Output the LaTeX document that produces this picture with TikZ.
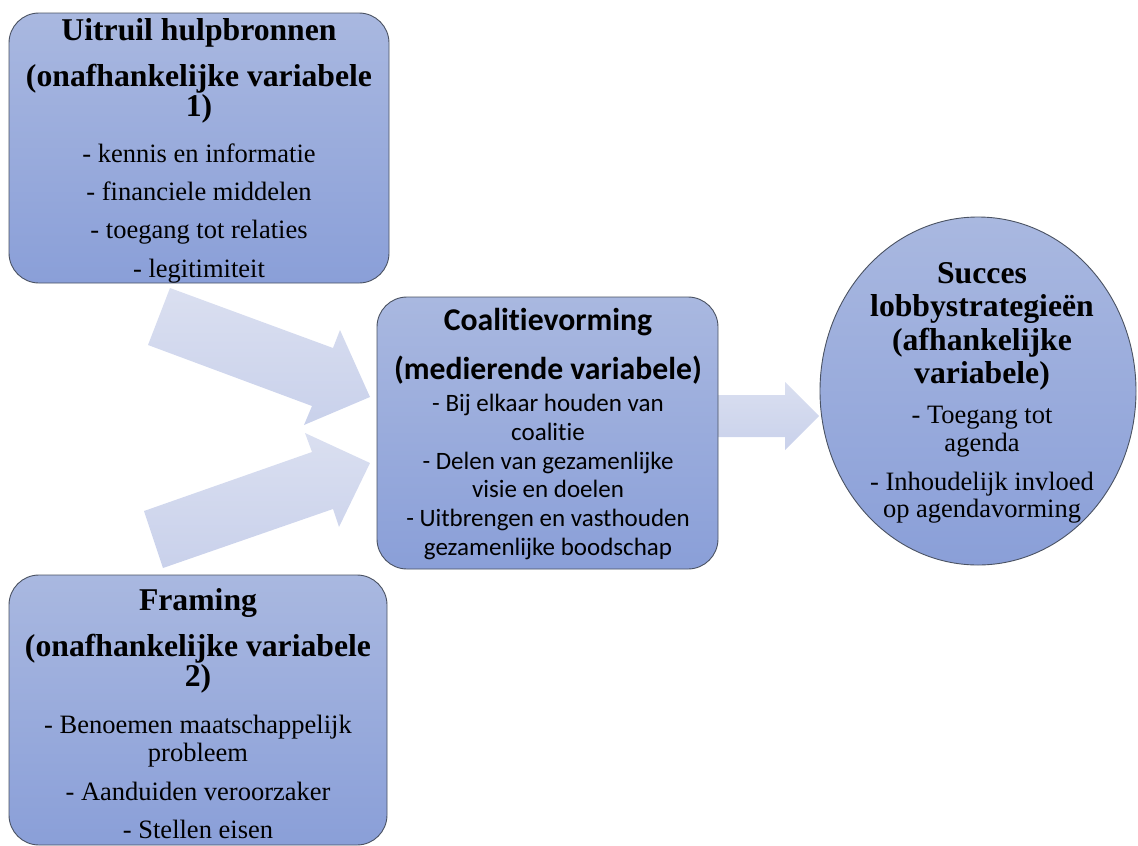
\documentclass[tikz,border=0pt]{standalone}
\usepackage{fontspec}
\setmainfont{Liberation Serif}
\newfontfamily\calib[Ligatures=NoCommon]{Carlito}
\usetikzlibrary{shapes.geometric}
\definecolor{boxtop}{HTML}{A9B8E0}
\definecolor{boxbot}{HTML}{8A9FD8}
\definecolor{arrtop}{HTML}{DADFF0}
\definecolor{arrbot}{HTML}{C9D1EB}
\definecolor{edge}{HTML}{4A5262}
\tikzset{
  box/.style={draw=edge, line width=0.9pt, rounded corners=30pt, top color=boxtop, bottom color=boxbot, inner sep=0pt},
  oval/.style={draw=edge, line width=0.9pt, ellipse, top color=boxtop, bottom color=boxbot, inner sep=0pt},
  blockarrow/.style={top color=arrtop, bottom color=arrbot, draw=none},
  ttl/.style={anchor=base, inner sep=0pt, font=\fontsize{31.7}{34}\selectfont\bfseries},
  itm/.style={anchor=base, inner sep=0pt, font=\fontsize{26.5}{28}\selectfont},
  cttl/.style={anchor=base, inner sep=0pt, font=\calib\fontsize{31.7}{34}\selectfont\bfseries},
  citm/.style={anchor=base, inner sep=0pt, font=\calib\fontsize{25}{28}\selectfont},
}
\begin{document}
\begin{tikzpicture}[x=1pt,y=-1pt]
\useasboundingbox (0,0) rectangle (1138,846);
% block arrows
\path[blockarrow] (170,288) -- (333,348) -- (340,330) -- (370,397) -- (304,425) -- (312,406) -- (148,345) -- cycle;
\path[blockarrow] (144,511) -- (312,452) -- (305,433) -- (370,463) -- (339,527) -- (333,509) -- (163,568) -- cycle;
\path[blockarrow] (700,395) -- (785,395) -- (785,382) -- (819,416) -- (785,450) -- (785,437) -- (700,437) -- cycle;
% boxes
\node[box, minimum width=380pt, minimum height=270pt] (res) at (199,148) {};
\node[box, minimum width=378pt, minimum height=270pt] (fram) at (198,710) {};
\node[box, minimum width=341pt, minimum height=272pt] (coal) at (547.5,433) {};
\node[oval, minimum width=316pt, minimum height=348pt] (succ) at (978,391) {};
% box 1 text
\node[ttl] (r1) at (199,40.7) {Uitruil hulpbronnen};
\node[ttl] (r2) at (199,86) {(onafhankelijke variabele};
\node[ttl] (r3) at (199,116.7) {1)};
\node[itm] (r4) at (199,162) {- kennis en informatie};
\node[itm] (r5) at (199,200.3) {- financiele middelen};
\node[itm] (r6) at (199,238.6) {- toegang tot relaties};
\node[itm] (r7) at (199,277) {- legitimiteit};
% framing text
\node[ttl] (f1) at (198,610) {Framing};
\node[ttl] (f2) at (198,656) {(onafhankelijke variabele};
\node[ttl] (f3) at (198,686.7) {2)};
\node[itm] (f4) at (198,733) {- Benoemen maatschappelijk};
\node[itm] (f5) at (198,761) {probleem};
\node[itm] (f6) at (198,800) {- Aanduiden veroorzaker};
\node[itm] (f7) at (198,838) {- Stellen eisen};
% coalition text
\node[cttl] (c1) at (548,330) {Coalitievorming};
\node[cttl] (c2) at (548,379) {(medierende variabele)};
\node[citm] (c3) at (548,411.5) {- Bij elkaar houden van};
\node[citm] (c4) at (548,440.3) {coalitie};
\node[citm] (c5) at (548,469.1) {- Delen van gezamenlijke};
\node[citm] (c6) at (548,497.9) {visie en doelen};
\node[citm] (c7) at (548,526.7) {- Uitbrengen en vasthouden};
\node[citm] (c8) at (548,555.5) {gezamenlijke boodschap};
% success text
\node[ttl] (s1) at (982,283.3) {Succes};
\node[ttl] (s2) at (982,316.7) {lobbystrategieën};
\node[ttl] (s3) at (982,350) {(afhankelijke};
\node[ttl] (s4) at (982,383) {variabele)};
\node[itm] (s5) at (982,423) {- Toegang tot};
\node[itm] (s6) at (982,451.7) {agenda};
\node[itm] (s7) at (982,490) {- Inhoudelijk invloed};
\node[itm] (s8) at (982,517.7) {op agendavorming};
\end{tikzpicture}
\end{document}
